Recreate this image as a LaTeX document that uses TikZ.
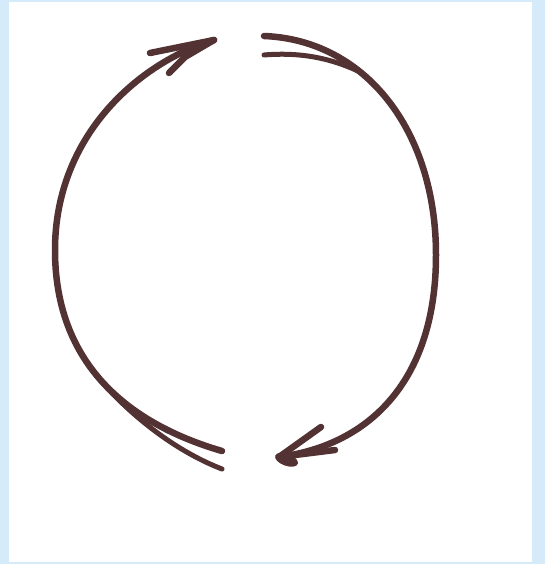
\documentclass[tikz,border=0pt]{standalone}
\begin{document}
\begin{tikzpicture}[x=1pt,y=-1pt,
  stroke/.style={draw=arrowbrown,line width=6.5pt,line cap=round,line join=round},
  thinstroke/.style={draw=arrowbrown,line width=5pt,line cap=round,line join=round}]
\definecolor{arrowbrown}{RGB}{82,50,50}
\definecolor{framebg}{RGB}{214,235,250}
\useasboundingbox (0,0) rectangle (545,564);
\fill[framebg] (0,0) rectangle (545,564);
\fill[white] (9,2) rectangle (532,562);
% left arc (upward arrow)
\coordinate (ltip) at (214,40);
\coordinate (lmid) at (55,250);
\coordinate (lend) at (222,451);
\coordinate (lfork) at (93,371);
\coordinate (lend2) at (222,469);
\draw[stroke] (ltip) .. controls (140,62) and (55,135) .. (lmid)
  .. controls (55,380) and (150,430) .. (lend);
\draw[thinstroke] (lfork) .. controls (111,395) and (160,445) .. (lend2);
\draw[stroke] (ltip) -- (150,53);
\draw[stroke] (ltip) -- (185,57) -- (169,73);
% right arc (downward arrow)
\coordinate (rstart) at (264,36);
\coordinate (rmid) at (436,255);
\coordinate (rtip) at (279,457);
\coordinate (rstart2) at (264,55);
\coordinate (rfork) at (358,71);
\draw[stroke] (rstart) .. controls (365,40) and (436,130) .. (rmid)
  .. controls (436,380) and (370,445) .. (rtip);
\draw[thinstroke] (rstart2) .. controls (300,52) and (330,58) .. (rfork);
\draw[stroke] (rtip) -- (321,427);
\draw[stroke] (rtip) -- (335,450);
\fill[arrowbrown,rotate around={-20:(rtip)}] ([xshift=8pt]rtip) ellipse (12pt and 6pt);
\end{tikzpicture}
\end{document}
